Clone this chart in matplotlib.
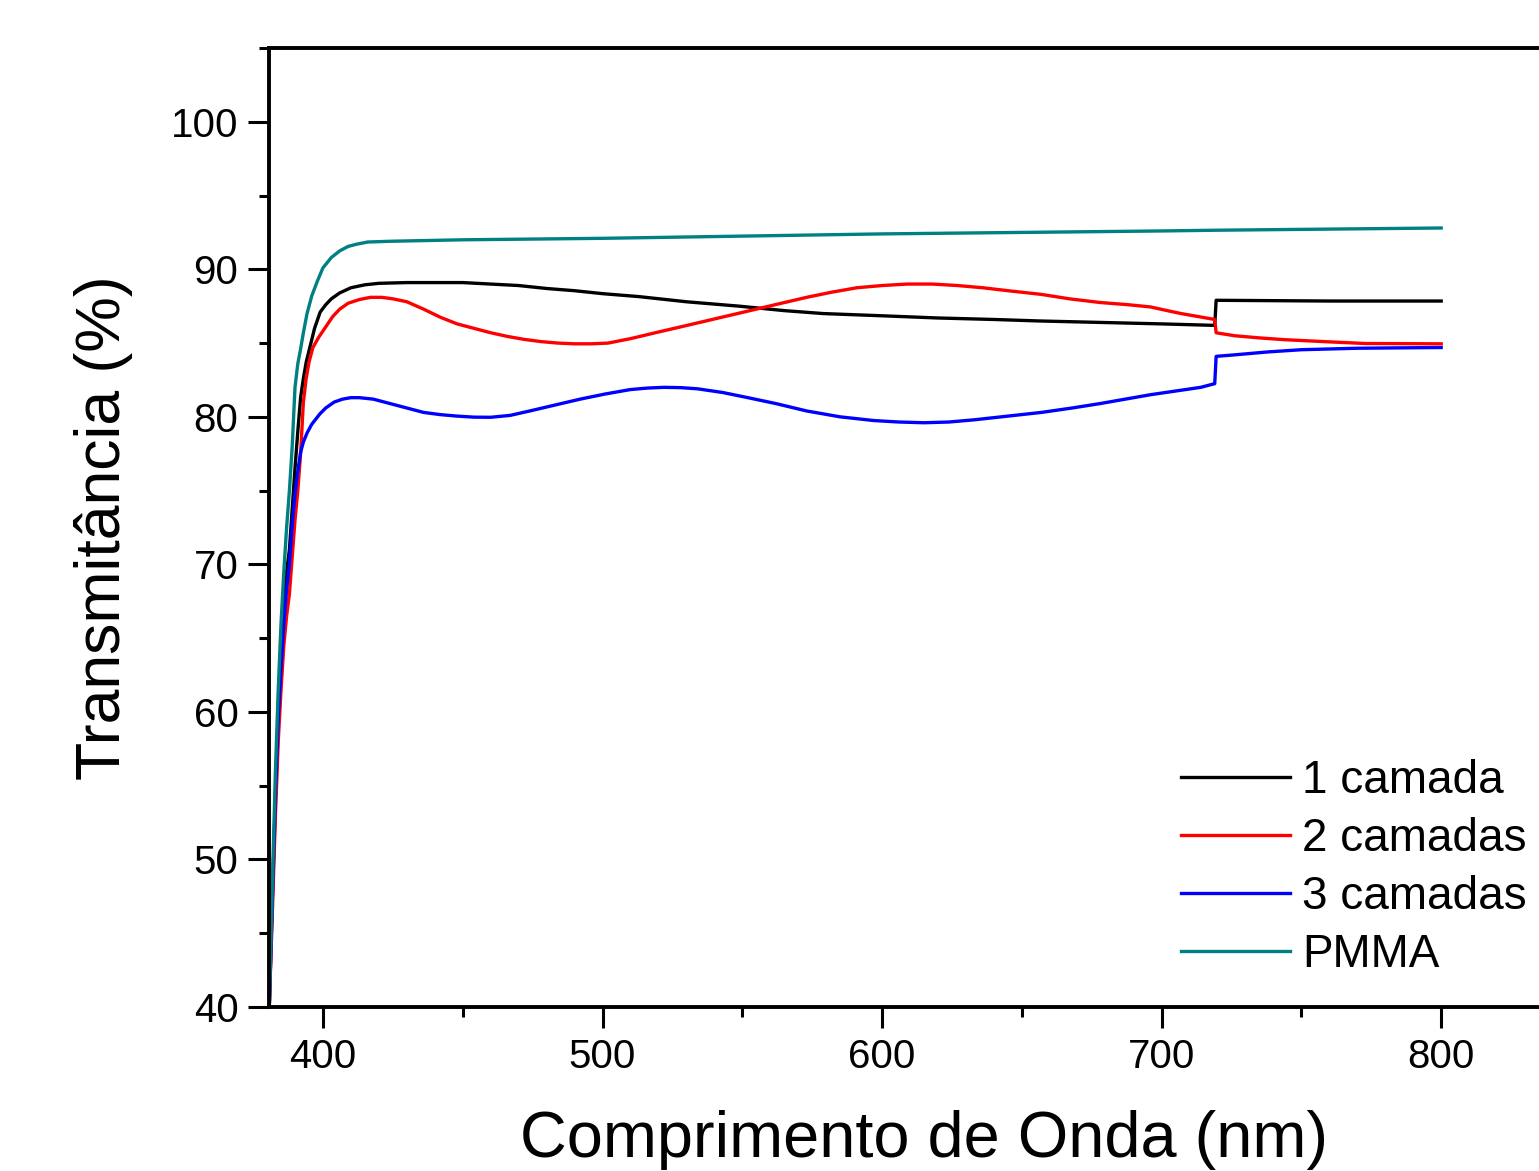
"""
Transmittance spectra of PMMA films with 1, 2 and 3 coating layers.
"""

import matplotlib
matplotlib.use("Agg")
import matplotlib.pyplot as plt
from matplotlib.ticker import MultipleLocator

plt.rcParams["font.family"] = ["Liberation Sans", "DejaVu Sans"]

# wavelength (nm) / transmittance (%)
wl_1 = [380.8, 382, 383, 384, 385, 386, 387, 388, 390, 391, 392, 393, 394,
        395.3, 397, 399, 401, 403, 406, 410, 415, 420, 430, 450, 460, 470,
        480, 490, 500, 513, 530, 549, 565, 579, 600, 620, 640, 656, 678, 700,
        719, 719.5, 760, 800]
t_1 = [40, 48, 54, 59, 63.5, 67, 69.5, 71, 76.5, 79, 81.3, 82.6, 83.7,
       84.7, 86.0, 87.1, 87.6, 88.0, 88.4, 88.75, 88.95, 89.05, 89.1, 89.1,
       89.0, 88.9, 88.7, 88.55, 88.35, 88.15, 87.8, 87.5, 87.2, 87.0, 86.85,
       86.7, 86.6, 86.5, 86.4, 86.3, 86.2, 87.9, 87.85, 87.85]

wl_2 = [380.8, 382, 383, 384, 385, 386, 387, 388, 390, 391, 392, 393, 394,
        395, 396.4, 398.5, 401, 403.5, 406, 409, 413, 417, 421, 425, 430, 436,
        442, 448, 454, 460, 466, 472, 478, 484, 490, 496, 502, 510, 520, 528,
        537, 546, 555, 564, 573, 582, 591, 600, 609, 618, 627, 636, 645, 657,
        667, 678, 688, 696, 702, 707, 713, 719, 719.5, 726, 735, 744, 758, 773,
        800]
t_2 = [40, 47, 53, 58, 61.5, 64.5, 66.5, 68, 73, 75, 77.5, 81, 82.6,
       83.7, 84.7, 85.4, 86.1, 86.8, 87.3, 87.7, 87.95, 88.1, 88.1, 88.0, 87.8,
       87.3, 86.75, 86.3, 86.0, 85.7, 85.45, 85.25, 85.1, 85.0, 84.95, 84.95,
       85.0, 85.3, 85.75, 86.1, 86.5, 86.9, 87.3, 87.7, 88.1, 88.45, 88.75,
       88.9, 89.0, 89.0, 88.9, 88.75, 88.55, 88.3, 88.0, 87.75, 87.6, 87.45,
       87.2, 87.0, 86.8, 86.6, 85.7, 85.5, 85.35, 85.23, 85.1, 84.97, 84.95]

wl_3 = [380.8, 382, 383, 384, 385, 386, 387, 388, 389, 390, 391, 392, 393,
        394.3, 396, 398.9, 401, 404, 407, 410, 413, 418, 424, 430, 436, 442,
        448, 454, 460, 467, 474, 483, 492, 501, 510, 516, 522, 528, 534, 543,
        552, 562, 573, 585, 597, 606, 615, 624, 633, 645, 657, 668, 678, 687,
        696, 705, 714, 719, 719.5, 726, 738, 750, 770, 800]
t_3 = [40, 48, 54.5, 59.5, 63, 66, 68.3, 70, 72.7, 74.8, 76.3, 77.6, 78.3,
       78.9, 79.5, 80.2, 80.6, 81.0, 81.2, 81.3, 81.3, 81.2, 80.9, 80.6, 80.3,
       80.15, 80.05, 79.98, 79.97, 80.1, 80.4, 80.8, 81.2, 81.55, 81.85, 81.95,
       82.0, 81.98, 81.9, 81.65, 81.3, 80.9, 80.4, 80.0, 79.75, 79.65, 79.6,
       79.65, 79.8, 80.05, 80.3, 80.6, 80.9, 81.2, 81.5, 81.75, 82.0, 82.25,
       84.1, 84.2, 84.4, 84.55, 84.65, 84.7]

wl_pmma = [380.8, 382, 383, 384, 385, 386, 387, 388, 389, 390, 391, 392, 393,
           394.3, 396, 398, 400, 403, 406, 409, 412, 416, 424, 450, 500, 600,
           700, 720, 800]
t_pmma = [40, 49, 56, 61.5, 66, 69.5, 72.5, 75, 78, 82, 83.6, 84.6, 85.7,
          87.0, 88.2, 89.2, 90.1, 90.8, 91.25, 91.55, 91.7, 91.85, 91.9, 92.0,
          92.1, 92.4, 92.6, 92.65, 92.8]

labels = ["1 camada", "2 camadas", "3 camadas", "PMMA"]
colors = ["black", "red", "blue", "#008080"]

fig = plt.figure(figsize=(15.39, 11.71), dpi=100)
# axes runs past the right edge of the picture, as in the original
ax = fig.add_axes([269 / 1539, 1 - 1007 / 1171, 1284 / 1539, 959 / 1171])

for x, y, lab, col in zip([wl_1, wl_2, wl_3, wl_pmma], [t_1, t_2, t_3, t_pmma],
                          labels, colors):
    ax.plot(x, y, color=col, lw=2.4, label=lab)

ax.set_xlim(380.7, 840)
ax.set_ylim(40, 105)
ax.xaxis.set_major_locator(MultipleLocator(100))
ax.xaxis.set_minor_locator(MultipleLocator(50))
ax.yaxis.set_major_locator(MultipleLocator(10))
ax.yaxis.set_minor_locator(MultipleLocator(5))

for s in ax.spines.values():
    s.set_linewidth(2.8)
ax.tick_params(which="major", direction="out", length=15, width=2.2,
               labelsize=29, pad=7, top=False, right=False)
ax.tick_params(which="minor", direction="out", length=7, width=2.2,
               top=False, right=False)

ax.set_xlabel("Comprimento de Onda (nm)", fontsize=46.7)
ax.set_ylabel("Transmitância (%)", fontsize=45)
ax.xaxis.set_label_coords(0.5105, -0.107)
ax.yaxis.set_label_coords(-0.106, 0.5)

ax.legend(loc="center left", bbox_to_anchor=(1181 / 1539, 1 - 868 / 1171),
          bbox_transform=fig.transFigure, frameon=False, fontsize=33,
          handlelength=2.38, handletextpad=0.26, labelspacing=0.31,
          borderpad=0, borderaxespad=0)

fig.savefig("out.png", dpi=100)
